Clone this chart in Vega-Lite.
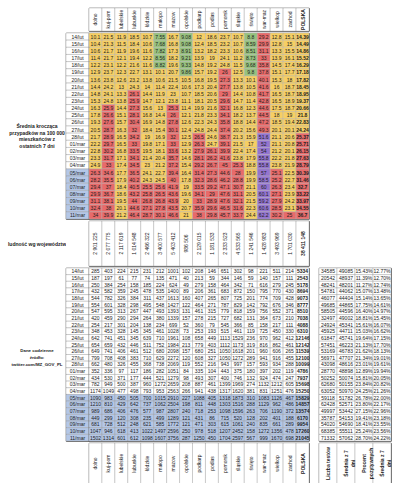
{
"$schema":"https://vega.github.io/schema/vega-lite/v6.json",
"padding":{"left":7,"top":7,"right":0,"bottom":0},
"background":"white",
"config":{"view":{"stroke":"#222","strokeWidth":0.8},"concat":{"spacing":0},"text":{"font":"Liberation Sans Narrow, Liberation Sans, Arial, sans-serif","fontSize":5,"fill":"#222"},"locale":{"number":{"decimal":".","thousands":" ","grouping":[3],"currency":["",""]}}},
"datasets":{
"cells":[
{"d":"14/lut","r":"dolno","a":10.1,"c":285},{"d":"14/lut","r":"kuj-pom","a":21.5,"c":403},{"d":"14/lut","r":"lubelskie","a":11.9,"c":224},{"d":"14/lut","r":"lubuskie","a":18.5,"c":215},{"d":"14/lut","r":"łódzkie","a":10.7,"c":231},{"d":"14/lut","r":"małopo","a":7.55,"c":212},{"d":"14/lut","r":"mazow","a":16.7,"c":1001},{"d":"14/lut","r":"opolskie","a":9.08,"c":102},{"d":"14/lut","r":"podkarp","a":12,"c":208},{"d":"14/lut","r":"podlas","a":18.6,"c":146},{"d":"14/lut","r":"pomorsk","a":23.7,"c":651},{"d":"14/lut","r":"śląskie","a":10.7,"c":302},{"d":"14/lut","r":"święto","a":8.8,"c":98},{"d":"14/lut","r":"war-maz","a":29.2,"c":221},{"d":"14/lut","r":"wielkop","a":12.8,"c":511},{"d":"14/lut","r":"zachod","a":15.1,"c":214},{"d":"14/lut","r":"POLSKA","a":14.39,"c":5334},
{"d":"15/lut","r":"dolno","a":10.4,"c":187},{"d":"15/lut","r":"kuj-pom","a":21.3,"c":197},{"d":"15/lut","r":"lubelskie","a":11.5,"c":61},{"d":"15/lut","r":"lubuskie","a":18.4,"c":77},{"d":"15/lut","r":"łódzkie","a":10.6,"c":74},{"d":"15/lut","r":"małopo","a":7.68,"c":135},{"d":"15/lut","r":"mazow","a":16.8,"c":471},{"d":"15/lut","r":"opolskie","a":9.08,"c":40},{"d":"15/lut","r":"podkarp","a":12.4,"c":213},{"d":"15/lut","r":"podlas","a":18.5,"c":59},{"d":"15/lut","r":"pomorsk","a":23.2,"c":344},{"d":"15/lut","r":"śląskie","a":10.7,"c":146},{"d":"15/lut","r":"święto","a":8.59,"c":59},{"d":"15/lut","r":"war-maz","a":29.9,"c":140},{"d":"15/lut","r":"wielkop","a":12.8,"c":157},{"d":"15/lut","r":"zachod","a":15,"c":111},{"d":"15/lut","r":"POLSKA","a":14.49,"c":2543},
{"d":"16/lut","r":"dolno","a":10.6,"c":250},{"d":"16/lut","r":"kuj-pom","a":21.7,"c":384},{"d":"16/lut","r":"lubelskie","a":11.9,"c":254},{"d":"16/lut","r":"lubuskie","a":19.6,"c":158},{"d":"16/lut","r":"łódzkie","a":11.6,"c":185},{"d":"16/lut","r":"małopo","a":7.82,"c":224},{"d":"16/lut","r":"mazow","a":17.3,"c":624},{"d":"16/lut","r":"opolskie","a":8.91,"c":49},{"d":"16/lut","r":"podkarp","a":13.2,"c":279},{"d":"16/lut","r":"podlas","a":18.2,"c":158},{"d":"16/lut","r":"pomorsk","a":23.3,"c":464},{"d":"16/lut","r":"śląskie","a":10.6,"c":342},{"d":"16/lut","r":"święto","a":8.51,"c":71},{"d":"16/lut","r":"war-maz","a":31.1,"c":616},{"d":"16/lut","r":"wielkop","a":13.3,"c":279},{"d":"16/lut","r":"zachod","a":15.5,"c":245},{"d":"16/lut","r":"POLSKA","a":14.86,"c":5178},
{"d":"17/lut","r":"dolno","a":11.4,"c":432},{"d":"17/lut","r":"kuj-pom","a":21.7,"c":582},{"d":"17/lut","r":"lubelskie","a":12.1,"c":359},{"d":"17/lut","r":"lubuskie","a":19.4,"c":245},{"d":"17/lut","r":"łódzkie","a":12.2,"c":478},{"d":"17/lut","r":"małopo","a":8.56,"c":535},{"d":"17/lut","r":"mazow","a":18.2,"c":1400},{"d":"17/lut","r":"opolskie","a":9.21,"c":89},{"d":"17/lut","r":"podkarp","a":13.9,"c":206},{"d":"17/lut","r":"podlas","a":19,"c":361},{"d":"17/lut","r":"pomorsk","a":24.1,"c":683},{"d":"17/lut","r":"śląskie","a":11.2,"c":872},{"d":"17/lut","r":"święto","a":8.73,"c":150},{"d":"17/lut","r":"war-maz","a":33,"c":795},{"d":"17/lut","r":"wielkop","a":13.9,"c":770},{"d":"17/lut","r":"zachod","a":16.1,"c":430},{"d":"17/lut","r":"POLSKA","a":15.52,"c":8694},
{"d":"18/lut","r":"dolno","a":12.2,"c":544},{"d":"18/lut","r":"kuj-pom","a":23.1,"c":782},{"d":"18/lut","r":"lubelskie","a":12.2,"c":326},{"d":"18/lut","r":"lubuskie","a":21.6,"c":384},{"d":"18/lut","r":"łódzkie","a":11.6,"c":311},{"d":"18/lut","r":"małopo","a":8.82,"c":437},{"d":"18/lut","r":"mazow","a":19.6,"c":1613},{"d":"18/lut","r":"opolskie","a":9.33,"c":160},{"d":"18/lut","r":"podkarp","a":14.8,"c":407},{"d":"18/lut","r":"podlas","a":19.2,"c":265},{"d":"18/lut","r":"pomorsk","a":24.8,"c":807},{"d":"18/lut","r":"śląskie","a":11.5,"c":725},{"d":"18/lut","r":"święto","a":9.68,"c":201},{"d":"18/lut","r":"war-maz","a":35.8,"c":774},{"d":"18/lut","r":"wielkop","a":14.5,"c":709},{"d":"18/lut","r":"zachod","a":17.4,"c":428},{"d":"18/lut","r":"POLSKA","a":16.29,"c":9073},
{"d":"19/lut","r":"dolno","a":12.9,"c":554},{"d":"19/lut","r":"kuj-pom","a":23.7,"c":601},{"d":"19/lut","r":"lubelskie","a":12.3,"c":328},{"d":"19/lut","r":"lubuskie","a":22.7,"c":298},{"d":"19/lut","r":"łódzkie","a":13.1,"c":495},{"d":"19/lut","r":"małopo","a":10.1,"c":548},{"d":"19/lut","r":"mazow","a":20.7,"c":1427},{"d":"19/lut","r":"opolskie","a":9.86,"c":122},{"d":"19/lut","r":"podkarp","a":15.7,"c":464},{"d":"19/lut","r":"podlas","a":19.2,"c":271},{"d":"19/lut","r":"pomorsk","a":26,"c":787},{"d":"19/lut","r":"śląskie","a":12.5,"c":829},{"d":"19/lut","r":"święto","a":9.8,"c":142},{"d":"19/lut","r":"war-maz","a":37.8,"c":792},{"d":"19/lut","r":"wielkop","a":15.1,"c":676},{"d":"19/lut","r":"zachod","a":17.7,"c":346},{"d":"19/lut","r":"POLSKA","a":17.18,"c":8777},
{"d":"20/lut","r":"dolno","a":13.6,"c":547},{"d":"20/lut","r":"kuj-pom","a":23.8,"c":595},{"d":"20/lut","r":"lubelskie","a":12.6,"c":313},{"d":"20/lut","r":"lubuskie","a":23.2,"c":267},{"d":"20/lut","r":"łódzkie","a":13.8,"c":447},{"d":"20/lut","r":"małopo","a":10.6,"c":493},{"d":"20/lut","r":"mazow","a":21.5,"c":1393},{"d":"20/lut","r":"opolskie","a":10.5,"c":131},{"d":"20/lut","r":"podkarp","a":16.8,"c":461},{"d":"20/lut","r":"podlas","a":19.5,"c":315},{"d":"20/lut","r":"pomorsk","a":27.3,"c":779},{"d":"20/lut","r":"śląskie","a":13.3,"c":818},{"d":"20/lut","r":"święto","a":10.1,"c":159},{"d":"20/lut","r":"war-maz","a":40.1,"c":756},{"d":"20/lut","r":"wielkop","a":15.3,"c":552},{"d":"20/lut","r":"zachod","a":18,"c":371},{"d":"20/lut","r":"POLSKA","a":17.82,"c":8510},
{"d":"21/lut","r":"dolno","a":14.4,"c":420},{"d":"21/lut","r":"kuj-pom","a":24.2,"c":459},{"d":"21/lut","r":"lubelskie","a":13,"c":290},{"d":"21/lut","r":"lubuskie","a":24.3,"c":294},{"d":"21/lut","r":"łódzkie","a":14,"c":264},{"d":"21/lut","r":"małopo","a":11.4,"c":380},{"d":"21/lut","r":"mazow","a":22.4,"c":1339},{"d":"21/lut","r":"opolskie","a":10.6,"c":157},{"d":"21/lut","r":"podkarp","a":17.3,"c":278},{"d":"21/lut","r":"podlas","a":20.4,"c":215},{"d":"21/lut","r":"pomorsk","a":27.7,"c":727},{"d":"21/lut","r":"śląskie","a":13.8,"c":682},{"d":"21/lut","r":"święto","a":10.5,"c":131},{"d":"21/lut","r":"war-maz","a":41.6,"c":364},{"d":"21/lut","r":"wielkop","a":16,"c":673},{"d":"21/lut","r":"zachod","a":18.7,"c":210},{"d":"21/lut","r":"POLSKA","a":18.45,"c":7038},
{"d":"22/lut","r":"dolno","a":14.8,"c":254},{"d":"22/lut","r":"kuj-pom","a":24.1,"c":217},{"d":"22/lut","r":"lubelskie","a":13.3,"c":301},{"d":"22/lut","r":"lubuskie","a":26.1,"c":204},{"d":"22/lut","r":"łódzkie","a":14.4,"c":138},{"d":"22/lut","r":"małopo","a":11.9,"c":234},{"d":"22/lut","r":"mazow","a":23,"c":699},{"d":"22/lut","r":"opolskie","a":10.7,"c":52},{"d":"22/lut","r":"podkarp","a":18.5,"c":360},{"d":"22/lut","r":"podlas","a":20.6,"c":79},{"d":"22/lut","r":"pomorsk","a":29,"c":545},{"d":"22/lut","r":"śląskie","a":14.4,"c":366},{"d":"22/lut","r":"święto","a":10.8,"c":85},{"d":"22/lut","r":"war-maz","a":41.7,"c":158},{"d":"22/lut","r":"wielkop","a":16.5,"c":217},{"d":"22/lut","r":"zachod","a":18.7,"c":111},{"d":"22/lut","r":"POLSKA","a":18.95,"c":4088},
{"d":"23/lut","r":"dolno","a":15.3,"c":348},{"d":"23/lut","r":"kuj-pom","a":24.8,"c":453},{"d":"23/lut","r":"lubelskie","a":13.8,"c":328},{"d":"23/lut","r":"lubuskie","a":25.9,"c":145},{"d":"23/lut","r":"łódzkie","a":14.7,"c":345},{"d":"23/lut","r":"małopo","a":12.1,"c":461},{"d":"23/lut","r":"mazow","a":23.8,"c":1028},{"d":"23/lut","r":"opolskie","a":11.1,"c":73},{"d":"23/lut","r":"podkarp","a":18.1,"c":253},{"d":"23/lut","r":"podlas","a":20.5,"c":193},{"d":"23/lut","r":"pomorsk","a":29.6,"c":515},{"d":"23/lut","r":"śląskie","a":14.7,"c":461},{"d":"23/lut","r":"święto","a":11.4,"c":119},{"d":"23/lut","r":"war-maz","a":42.8,"c":725},{"d":"23/lut","r":"wielkop","a":16.5,"c":450},{"d":"23/lut","r":"zachod","a":18.9,"c":330},{"d":"23/lut","r":"POLSKA","a":19.37,"c":6310},
{"d":"24/lut","r":"dolno","a":16.3,"c":642},{"d":"24/lut","r":"kuj-pom","a":25.9,"c":741},{"d":"24/lut","r":"lubelskie","a":14.4,"c":451},{"d":"24/lut","r":"lubuskie","a":27.3,"c":345},{"d":"24/lut","r":"łódzkie","a":15.6,"c":639},{"d":"24/lut","r":"małopo","a":13,"c":710},{"d":"24/lut","r":"mazow","a":25.3,"c":1961},{"d":"24/lut","r":"opolskie","a":11.4,"c":108},{"d":"24/lut","r":"podkarp","a":19.9,"c":658},{"d":"24/lut","r":"podlas","a":21.6,"c":449},{"d":"24/lut","r":"pomorsk","a":32.1,"c":1113},{"d":"24/lut","r":"śląskie","a":16.8,"c":1529},{"d":"24/lut","r":"święto","a":12.3,"c":236},{"d":"24/lut","r":"war-maz","a":44.6,"c":970},{"d":"24/lut","r":"wielkop","a":17.5,"c":962},{"d":"24/lut","r":"zachod","a":18.7,"c":412},{"d":"24/lut","r":"POLSKA","a":20.66,"c":12146},
{"d":"25/lut","r":"dolno","a":17.8,"c":654},{"d":"25/lut","r":"kuj-pom","a":26.6,"c":659},{"d":"25/lut","r":"lubelskie","a":15.1,"c":432},{"d":"25/lut","r":"lubuskie","a":28.1,"c":446},{"d":"25/lut","r":"łódzkie","a":16.8,"c":511},{"d":"25/lut","r":"małopo","a":14.4,"c":752},{"d":"25/lut","r":"mazow","a":26,"c":1984},{"d":"25/lut","r":"opolskie","a":12.1,"c":213},{"d":"25/lut","r":"podkarp","a":21.8,"c":779},{"d":"25/lut","r":"podlas","a":23.3,"c":403},{"d":"25/lut","r":"pomorsk","a":34.1,"c":1112},{"d":"25/lut","r":"śląskie","a":18.2,"c":1173},{"d":"25/lut","r":"święto","a":13.7,"c":319},{"d":"25/lut","r":"war-maz","a":44.5,"c":816},{"d":"25/lut","r":"wielkop","a":18,"c":862},{"d":"25/lut","r":"zachod","a":19,"c":461},{"d":"25/lut","r":"POLSKA","a":21.8,"c":12142},
{"d":"26/lut","r":"dolno","a":19.3,"c":649},{"d":"26/lut","r":"kuj-pom","a":27.6,"c":741},{"d":"26/lut","r":"lubelskie","a":15.7,"c":406},{"d":"26/lut","r":"lubuskie","a":30.4,"c":461},{"d":"26/lut","r":"łódzkie","a":16.9,"c":512},{"d":"26/lut","r":"małopo","a":14.8,"c":680},{"d":"26/lut","r":"mazow","a":27.8,"c":2098},{"d":"26/lut","r":"opolskie","a":12.6,"c":157},{"d":"26/lut","r":"podkarp","a":22.3,"c":680},{"d":"26/lut","r":"podlas","a":24.3,"c":251},{"d":"26/lut","r":"pomorsk","a":35.8,"c":1050},{"d":"26/lut","r":"śląskie","a":18.8,"c":1618},{"d":"26/lut","r":"święto","a":14.4,"c":201},{"d":"26/lut","r":"war-maz","a":47.2,"c":960},{"d":"26/lut","r":"wielkop","a":18.5,"c":606},{"d":"26/lut","r":"zachod","a":19.4,"c":265},{"d":"26/lut","r":"POLSKA","a":22.83,"c":11539},
{"d":"27/lut","r":"dolno","a":20.5,"c":799},{"d":"27/lut","r":"kuj-pom","a":28.7,"c":708},{"d":"27/lut","r":"lubelskie","a":16.3,"c":408},{"d":"27/lut","r":"lubuskie","a":32,"c":383},{"d":"27/lut","r":"łódzkie","a":18.4,"c":710},{"d":"27/lut","r":"małopo","a":15.4,"c":629},{"d":"27/lut","r":"mazow","a":30.1,"c":2272},{"d":"27/lut","r":"opolskie","a":12.4,"c":120},{"d":"27/lut","r":"podkarp","a":24.8,"c":608},{"d":"27/lut","r":"podlas","a":24.4,"c":327},{"d":"27/lut","r":"pomorsk","a":37.4,"c":1050},{"d":"27/lut","r":"śląskie","a":20.2,"c":1272},{"d":"27/lut","r":"święto","a":15.6,"c":289},{"d":"27/lut","r":"war-maz","a":49.3,"c":941},{"d":"27/lut","r":"wielkop","a":20.1,"c":916},{"d":"27/lut","r":"zachod","a":20.1,"c":455},{"d":"27/lut","r":"POLSKA","a":24.24,"c":12100},
{"d":"28/lut","r":"dolno","a":21.7,"c":662},{"d":"28/lut","r":"kuj-pom","a":28.9,"c":480},{"d":"28/lut","r":"lubelskie","a":16.5,"c":326},{"d":"28/lut","r":"lubuskie","a":34.2,"c":455},{"d":"28/lut","r":"łódzkie","a":19,"c":368},{"d":"28/lut","r":"małopo","a":16.9,"c":738},{"d":"28/lut","r":"mazow","a":32,"c":2069},{"d":"28/lut","r":"opolskie","a":12.5,"c":119},{"d":"28/lut","r":"podkarp","a":26.5,"c":552},{"d":"28/lut","r":"podlas","a":24.6,"c":216},{"d":"28/lut","r":"pomorsk","a":38.7,"c":943},{"d":"28/lut","r":"śląskie","a":21.3,"c":997},{"d":"28/lut","r":"święto","a":15.9,"c":157},{"d":"28/lut","r":"war-maz","a":51.6,"c":593},{"d":"28/lut","r":"wielkop","a":21.1,"c":934},{"d":"28/lut","r":"zachod","a":20.6,"c":288},{"d":"28/lut","r":"POLSKA","a":25.37,"c":10099},
{"d":"01/mar","r":"dolno","a":22.2,"c":352},{"d":"01/mar","r":"kuj-pom","a":29.7,"c":336},{"d":"01/mar","r":"lubelskie","a":16.5,"c":97},{"d":"01/mar","r":"lubuskie","a":33,"c":117},{"d":"01/mar","r":"łódzkie","a":19.8,"c":186},{"d":"01/mar","r":"małopo","a":17.1,"c":282},{"d":"01/mar","r":"mazow","a":33,"c":1051},{"d":"01/mar","r":"opolskie","a":12.9,"c":84},{"d":"01/mar","r":"podkarp","a":26.3,"c":335},{"d":"01/mar","r":"podlas","a":24.7,"c":104},{"d":"01/mar","r":"pomorsk","a":39.1,"c":443},{"d":"01/mar","r":"śląskie","a":21.5,"c":375},{"d":"01/mar","r":"święto","a":17,"c":180},{"d":"01/mar","r":"war-maz","a":52,"c":397},{"d":"01/mar","r":"wielkop","a":21.1,"c":202},{"d":"01/mar","r":"zachod","a":20.8,"c":119},{"d":"01/mar","r":"POLSKA","a":25.71,"c":4786},
{"d":"02/mar","r":"dolno","a":22.8,"c":434},{"d":"02/mar","r":"kuj-pom","a":30.2,"c":530},{"d":"02/mar","r":"lubelskie","a":16.8,"c":371},{"d":"02/mar","r":"lubuskie","a":33.5,"c":177},{"d":"02/mar","r":"łódzkie","a":19.5,"c":444},{"d":"02/mar","r":"małopo","a":18.1,"c":521},{"d":"02/mar","r":"mazow","a":33.6,"c":1279},{"d":"02/mar","r":"opolskie","a":13.2,"c":98},{"d":"02/mar","r":"podkarp","a":27.9,"c":493},{"d":"02/mar","r":"podlas","a":26.1,"c":307},{"d":"02/mar","r":"pomorsk","a":39.9,"c":400},{"d":"02/mar","r":"śląskie","a":22.4,"c":746},{"d":"02/mar","r":"święto","a":17.4,"c":132},{"d":"02/mar","r":"war-maz","a":54,"c":924},{"d":"02/mar","r":"wielkop","a":21.2,"c":474},{"d":"02/mar","r":"zachod","a":20.1,"c":247},{"d":"02/mar","r":"POLSKA","a":26.15,"c":7937},
{"d":"03/mar","r":"dolno","a":23.3,"c":782},{"d":"03/mar","r":"kuj-pom","a":31.7,"c":949},{"d":"03/mar","r":"lubelskie","a":17.1,"c":500},{"d":"03/mar","r":"lubuskie","a":34.1,"c":387},{"d":"03/mar","r":"łódzkie","a":21.4,"c":960},{"d":"03/mar","r":"małopo","a":20.4,"c":1272},{"d":"03/mar","r":"mazow","a":35.7,"c":2659},{"d":"03/mar","r":"opolskie","a":14.6,"c":208},{"d":"03/mar","r":"podkarp","a":28.1,"c":887},{"d":"03/mar","r":"podlas","a":26.2,"c":461},{"d":"03/mar","r":"pomorsk","a":41.6,"c":1399},{"d":"03/mar","r":"śląskie","a":23.8,"c":1969},{"d":"03/mar","r":"święto","a":17.9,"c":274},{"d":"03/mar","r":"war-maz","a":55.8,"c":1132},{"d":"03/mar","r":"wielkop","a":22.2,"c":1212},{"d":"03/mar","r":"zachod","a":21.8,"c":605},{"d":"03/mar","r":"POLSKA","a":27.63,"c":15698},
{"d":"04/mar","r":"dolno","a":24.9,"c":1174},{"d":"04/mar","r":"kuj-pom","a":33,"c":1049},{"d":"04/mar","r":"lubelskie","a":17.4,"c":477},{"d":"04/mar","r":"lubuskie","a":34.5,"c":498},{"d":"04/mar","r":"łódzkie","a":23,"c":793},{"d":"04/mar","r":"małopo","a":21.2,"c":953},{"d":"04/mar","r":"mazow","a":37.2,"c":2563},{"d":"04/mar","r":"opolskie","a":15.4,"c":266},{"d":"04/mar","r":"podkarp","a":29.2,"c":941},{"d":"04/mar","r":"podlas","a":26.7,"c":438},{"d":"04/mar","r":"pomorsk","a":45,"c":1317},{"d":"04/mar","r":"śląskie","a":25.3,"c":1620},{"d":"04/mar","r":"święto","a":18.8,"c":381},{"d":"04/mar","r":"war-maz","a":55.8,"c":831},{"d":"04/mar","r":"wielkop","a":23.8,"c":1251},{"d":"04/mar","r":"zachod","a":21.9,"c":476},{"d":"04/mar","r":"POLSKA","a":28.79,"c":15250},
{"d":"05/mar","r":"dolno","a":26.3,"c":1090},{"d":"05/mar","r":"kuj-pom","a":34.6,"c":983},{"d":"05/mar","r":"lubelskie","a":17.7,"c":450},{"d":"05/mar","r":"lubuskie","a":36.5,"c":505},{"d":"05/mar","r":"łódzkie","a":24.1,"c":700},{"d":"05/mar","r":"małopo","a":22.7,"c":1015},{"d":"05/mar","r":"mazow","a":39.4,"c":2910},{"d":"05/mar","r":"opolskie","a":16.4,"c":227},{"d":"05/mar","r":"podkarp","a":31.4,"c":1088},{"d":"05/mar","r":"podlas","a":27.3,"c":405},{"d":"05/mar","r":"pomorsk","a":44.6,"c":1318},{"d":"05/mar","r":"śląskie","a":28,"c":1873},{"d":"05/mar","r":"święto","a":19.9,"c":310},{"d":"05/mar","r":"war-maz","a":57,"c":1083},{"d":"05/mar","r":"wielkop","a":25.1,"c":1126},{"d":"05/mar","r":"zachod","a":22.5,"c":467},{"d":"05/mar","r":"POLSKA","a":30.39,"c":15829},
{"d":"06/mar","r":"dolno","a":28.2,"c":1210},{"d":"06/mar","r":"kuj-pom","a":35.5,"c":810},{"d":"06/mar","r":"lubelskie","a":17.9,"c":429},{"d":"06/mar","r":"lubuskie","a":40.2,"c":642},{"d":"06/mar","r":"łódzkie","a":24.3,"c":737},{"d":"06/mar","r":"małopo","a":24.5,"c":1062},{"d":"06/mar","r":"mazow","a":40,"c":2504},{"d":"06/mar","r":"opolskie","a":17.8,"c":198},{"d":"06/mar","r":"podkarp","a":32.3,"c":811},{"d":"06/mar","r":"podlas","a":28.6,"c":448},{"d":"06/mar","r":"pomorsk","a":46.2,"c":1303},{"d":"06/mar","r":"śląskie","a":28.8,"c":1516},{"d":"06/mar","r":"święto","a":19.9,"c":288},{"d":"06/mar","r":"war-maz","a":58.5,"c":1129},{"d":"06/mar","r":"wielkop","a":25.2,"c":962},{"d":"06/mar","r":"zachod","a":22.7,"c":486},{"d":"06/mar","r":"POLSKA","a":31.46,"c":14857},
{"d":"07/mar","r":"dolno","a":29.4,"c":989},{"d":"07/mar","r":"kuj-pom","a":37,"c":686},{"d":"07/mar","r":"lubelskie","a":18.4,"c":406},{"d":"07/mar","r":"lubuskie","a":40.5,"c":476},{"d":"07/mar","r":"łódzkie","a":25.5,"c":577},{"d":"07/mar","r":"małopo","a":25.6,"c":987},{"d":"07/mar","r":"mazow","a":41.9,"c":2807},{"d":"07/mar","r":"opolskie","a":19,"c":240},{"d":"07/mar","r":"podkarp","a":33.5,"c":718},{"d":"07/mar","r":"podlas","a":29.2,"c":253},{"d":"07/mar","r":"pomorsk","a":47.1,"c":1098},{"d":"07/mar","r":"śląskie","a":30.7,"c":1596},{"d":"07/mar","r":"święto","a":21.1,"c":263},{"d":"07/mar","r":"war-maz","a":60,"c":706},{"d":"07/mar","r":"wielkop","a":26.3,"c":1190},{"d":"07/mar","r":"zachod","a":23.4,"c":372},{"d":"07/mar","r":"POLSKA","a":32.7,"c":13574},
{"d":"08/mar","r":"dolno","a":29.9,"c":449},{"d":"08/mar","r":"kuj-pom","a":36.7,"c":299},{"d":"08/mar","r":"lubelskie","a":18.6,"c":120},{"d":"08/mar","r":"lubuskie","a":43.2,"c":308},{"d":"08/mar","r":"łódzkie","a":25.8,"c":235},{"d":"08/mar","r":"małopo","a":26.5,"c":499},{"d":"08/mar","r":"mazow","a":43.6,"c":1289},{"d":"08/mar","r":"opolskie","a":19.6,"c":121},{"d":"08/mar","r":"podkarp","a":34.1,"c":431},{"d":"08/mar","r":"podlas","a":29,"c":86},{"d":"08/mar","r":"pomorsk","a":47.6,"c":715},{"d":"08/mar","r":"śląskie","a":31.1,"c":520},{"d":"08/mar","r":"święto","a":20.5,"c":128},{"d":"08/mar","r":"war-maz","a":60.1,"c":202},{"d":"08/mar","r":"wielkop","a":27.1,"c":401},{"d":"08/mar","r":"zachod","a":23.9,"c":188},{"d":"08/mar","r":"POLSKA","a":33.22,"c":6170},
{"d":"09/mar","r":"dolno","a":31.1,"c":681},{"d":"09/mar","r":"kuj-pom","a":38.1,"c":728},{"d":"09/mar","r":"lubelskie","a":19.5,"c":512},{"d":"09/mar","r":"lubuskie","a":44,"c":248},{"d":"09/mar","r":"łódzkie","a":26.8,"c":621},{"d":"09/mar","r":"małopo","a":26.8,"c":585},{"d":"09/mar","r":"mazow","a":43.9,"c":1772},{"d":"09/mar","r":"opolskie","a":20,"c":121},{"d":"09/mar","r":"podkarp","a":33,"c":471},{"d":"09/mar","r":"podlas","a":28.9,"c":303},{"d":"09/mar","r":"pomorsk","a":47.6,"c":615},{"d":"09/mar","r":"śląskie","a":32.1,"c":1061},{"d":"09/mar","r":"święto","a":21.5,"c":240},{"d":"09/mar","r":"war-maz","a":59.2,"c":835},{"d":"09/mar","r":"wielkop","a":27.9,"c":661},{"d":"09/mar","r":"zachod","a":24.2,"c":289},{"d":"09/mar","r":"POLSKA","a":33.97,"c":9954},
{"d":"10/mar","r":"dolno","a":32.4,"c":1047},{"d":"10/mar","r":"kuj-pom","a":38,"c":946},{"d":"10/mar","r":"lubelskie","a":20.1,"c":618},{"d":"10/mar","r":"lubuskie","a":44.6,"c":413},{"d":"10/mar","r":"łódzkie","a":27.1,"c":1022},{"d":"10/mar","r":"małopo","a":27.8,"c":1497},{"d":"10/mar","r":"mazow","a":43.5,"c":2596},{"d":"10/mar","r":"opolskie","a":20.7,"c":250},{"d":"10/mar","r":"podkarp","a":35.9,"c":978},{"d":"10/mar","r":"podlas","a":29.6,"c":518},{"d":"10/mar","r":"pomorsk","a":46.5,"c":1207},{"d":"10/mar","r":"śląskie","a":31.6,"c":2452},{"d":"10/mar","r":"święto","a":22.3,"c":158},{"d":"10/mar","r":"war-maz","a":60.6,"c":1272},{"d":"10/mar","r":"wielkop","a":28.5,"c":1356},{"d":"10/mar","r":"zachod","a":23.1,"c":478},{"d":"10/mar","r":"POLSKA","a":34.55,"c":17260},
{"d":"11/mar","r":"dolno","a":34,"c":1502},{"d":"11/mar","r":"kuj-pom","a":39.9,"c":1314},{"d":"11/mar","r":"lubelskie","a":21.2,"c":601},{"d":"11/mar","r":"lubuskie","a":46.4,"c":612},{"d":"11/mar","r":"łódzkie","a":28.7,"c":1098},{"d":"11/mar","r":"małopo","a":30.1,"c":1607},{"d":"11/mar","r":"mazow","a":46.6,"c":3756},{"d":"11/mar","r":"opolskie","a":21,"c":287},{"d":"11/mar","r":"podkarp","a":38,"c":1250},{"d":"11/mar","r":"podlas","a":29.8,"c":450},{"d":"11/mar","r":"pomorsk","a":45.7,"c":1704},{"d":"11/mar","r":"śląskie","a":33.7,"c":2597},{"d":"11/mar","r":"święto","a":24.4,"c":567},{"d":"11/mar","r":"war-maz","a":62.2,"c":999},{"d":"11/mar","r":"wielkop","a":30.2,"c":1670},{"d":"11/mar","r":"zachod","a":25,"c":698},{"d":"11/mar","r":"POLSKA","a":36.7,"c":21045}
],
"pop":[{"r":"dolno","p":2901225},{"r":"kuj-pom","p":2077775},{"r":"lubelskie","p":2117619},{"r":"lubuskie","p":1014548},{"r":"łódzkie","p":2466322},{"r":"małopo","p":3400577},{"r":"mazow","p":5403412},{"r":"opolskie","p":986506},{"r":"podkarp","p":2129015},{"r":"podlas","p":1181533},{"r":"pomorsk","p":2333523},{"r":"śląskie","p":4533565},{"r":"święto","p":1241546},{"r":"war-maz","p":1428983},{"r":"wielkop","p":3493969},{"r":"zachod","p":1701030},{"r":"POLSKA","p":38411148}],
"tests":[
{"d":"14/lut","t":34585,"ta":49085,"p":0.1543,"pa":0.1277},{"d":"15/lut","t":20542,"ta":48937,"p":0.1139,"pa":0.127},{"d":"16/lut","t":48241,"ta":48201,"p":0.1127,"pa":0.1274},{"d":"17/lut","t":54781,"ta":44062,"p":0.1507,"pa":0.1348},{"d":"18/lut","t":46077,"ta":44404,"p":0.1514,"pa":0.1365},{"d":"19/lut","t":49685,"ta":44865,"p":0.1775,"pa":0.1461},{"d":"20/lut","t":58505,"ta":44596,"p":0.164,"pa":0.1497},{"d":"21/lut","t":32497,"ta":49002,"p":0.1881,"pa":0.1545},{"d":"22/lut","t":24924,"ta":45341,"p":0.1561,"pa":0.1607},{"d":"23/lut","t":45925,"ta":44711,"p":0.1503,"pa":0.1662},{"d":"24/lut","t":61847,"ta":45741,"p":0.1964,"pa":0.1715},{"d":"25/lut","t":57451,"ta":46223,"p":0.2113,"pa":0.177},{"d":"26/lut","t":53169,"ta":46783,"p":0.2162,"pa":0.1813},{"d":"27/lut","t":56971,"ta":47707,"p":0.2134,"pa":0.1901},{"d":"28/lut","t":43098,"ta":48616,"p":0.2301,"pa":0.1961},{"d":"01/mar","t":28770,"ta":48898,"p":0.1289,"pa":0.1994},{"d":"02/mar","t":50252,"ta":50074,"p":0.1581,"pa":0.2005},{"d":"03/mar","t":62680,"ta":50155,"p":0.2384,"pa":0.2082},{"d":"04/mar","t":63052,"ta":50970,"p":0.2425,"pa":0.2126},{"d":"05/mar","t":59118,"ta":51782,"p":0.2678,"pa":0.22},{"d":"06/mar","t":62428,"ta":52571,"p":0.238,"pa":0.2217},{"d":"07/mar","t":49997,"ta":53442,"p":0.2715,"pa":0.2296},{"d":"08/mar","t":35787,"ta":54153,"p":0.1941,"pa":0.2318},{"d":"09/mar","t":54020,"ta":54690,"p":0.1841,"pa":0.2355},{"d":"10/mar","t":68385,"ta":55511,"p":0.2524,"pa":0.2356},{"d":"11/mar","t":71332,"ta":57062,"p":0.287,"pa":0.2422}
]
},
"spacing":0,
"resolve":{"scale":{"x":"independent","y":"independent"}},
"vconcat":[
{"hconcat":[
 {"width":81,"height":23,"data":{"values":[{}]},"mark":{"type":"rect","fill":"white"},"encoding":{}},
 {"width":220,"height":23,"data":{"name":"pop"},
  "encoding":{"x":{"field":"r","type":"nominal","sort":null,"axis":null,"scale":{"paddingInner":0,"paddingOuter":0}}},
  "layer":[
   {"mark":{"type":"rect","fill":"white","stroke":"#999","strokeWidth":0.4}},
   {"transform":[{"filter":"datum.r != 'POLSKA'"}],"mark":{"type":"text","angle":270},"encoding":{"text":{"field":"r","type":"nominal"}}},
   {"transform":[{"filter":"datum.r == 'POLSKA'"}],"mark":{"type":"text","angle":270,"fontWeight":"bold"},"encoding":{"text":{"field":"r","type":"nominal"}}}
  ]}
 ],"spacing":0,"bounds":"flush","resolve":{"scale":{"x":"independent","y":"independent"}}},
{"hconcat":[
 {"width":58,"height":186,"data":{"values":[{}]},"mark":{"type":"text","fontWeight":"bold","lineHeight":6.6},"encoding":{"text":{"value":["Średnia krocząca","przypadków na 100 000","mieszkańców z","ostatnich 7 dni"]}}},
 {"width":23,"height":186,"data":{"name":"cells"},"transform":[{"filter":"datum.r == 'POLSKA'"}],
  "encoding":{"y":{"field":"d","type":"nominal","sort":null,"axis":null,"scale":{"paddingInner":0,"paddingOuter":0}}},
  "layer":[
   {"mark":{"type":"rect","stroke":"#999","strokeWidth":0.4},"encoding":{"fill":{"condition":{"test":"indexof(['05/mar','06/mar','07/mar','08/mar','09/mar','10/mar','11/mar'], datum.d) >= 0","value":"#b4c7e7"},"value":"white"}}},
   {"mark":{"type":"text"},"encoding":{"text":{"field":"d","type":"nominal"}}}
  ]},
 {"width":220,"height":186,"data":{"name":"cells"},
  "encoding":{"x":{"field":"r","type":"nominal","sort":null,"axis":null,"scale":{"paddingInner":0,"paddingOuter":0}},"y":{"field":"d","type":"nominal","sort":null,"axis":null,"scale":{"paddingInner":0,"paddingOuter":0}}},
  "layer":[
   {"mark":{"type":"rect","stroke":"#b0b0b0","strokeWidth":0.4},"encoding":{"fill":{"field":"a","type":"quantitative","scale":{"type":"threshold","domain":[10,25,50],"range":["#97c27e","#f6cf64","#e86a6a","#9474cf"]},"legend":null}}},
   {"transform":[{"filter":"datum.r != 'POLSKA'"}],"mark":{"type":"text"},"encoding":{"text":{"field":"a","type":"quantitative"}}},
   {"transform":[{"filter":"datum.r == 'POLSKA'"}],"mark":{"type":"text","fontWeight":"bold"},"encoding":{"text":{"field":"a","type":"quantitative"}}}
  ]}
 ],"spacing":0,"bounds":"flush","resolve":{"scale":{"x":"independent","y":"independent"}}},
{"hconcat":[
 {"width":58,"height":45,"data":{"values":[{}]},"mark":{"type":"text","fontWeight":"bold"},"encoding":{"text":{"value":"ludność wg województw"}}},
 {"width":23,"height":45,"data":{"values":[{}]},"mark":{"type":"rect","fill":"white"},"encoding":{}},
 {"width":220,"height":45,"data":{"name":"pop"},
  "encoding":{"x":{"field":"r","type":"nominal","sort":null,"axis":null,"scale":{"paddingInner":0,"paddingOuter":0}}},
  "layer":[
   {"mark":{"type":"rect","fill":"white","stroke":"#999","strokeWidth":0.4}},
   {"transform":[{"filter":"datum.r != 'POLSKA'"}],"mark":{"type":"text","angle":270},"encoding":{"text":{"field":"p","type":"quantitative","format":",d"}}},
   {"transform":[{"filter":"datum.r == 'POLSKA'"}],"mark":{"type":"text","angle":270,"fontWeight":"bold"},"encoding":{"text":{"field":"p","type":"quantitative","format":",d"}}}
  ]}
 ],"spacing":0,"bounds":"flush","resolve":{"scale":{"x":"independent","y":"independent"}}},
{"hconcat":[
 {"width":58,"height":173,"data":{"values":[{}]},"mark":{"type":"text","fontWeight":"bold","fontSize":4.4,"lineHeight":7.3,"dy":-4},"encoding":{"text":{"value":["Dane codzienne","","źródło:","twitter.com/MZ_GOV_PL"]}}},
 {"width":23,"height":173,"data":{"name":"cells"},"transform":[{"filter":"datum.r == 'POLSKA'"}],
  "encoding":{"y":{"field":"d","type":"nominal","sort":null,"axis":null,"scale":{"paddingInner":0,"paddingOuter":0}}},
  "layer":[
   {"mark":{"type":"rect","stroke":"#999","strokeWidth":0.4},"encoding":{"fill":{"condition":{"test":"indexof(['05/mar','06/mar','07/mar','08/mar','09/mar','10/mar','11/mar'], datum.d) >= 0","value":"#b4c7e7"},"value":"white"}}},
   {"mark":{"type":"text"},"encoding":{"text":{"field":"d","type":"nominal"}}}
  ]},
 {"width":220,"height":173,"data":{"name":"cells"},
  "encoding":{"x":{"field":"r","type":"nominal","sort":null,"axis":null,"scale":{"paddingInner":0,"paddingOuter":0}},"y":{"field":"d","type":"nominal","sort":null,"axis":null,"scale":{"paddingInner":0,"paddingOuter":0}}},
  "layer":[
   {"mark":{"type":"rect","stroke":"#999","strokeWidth":0.4},"encoding":{"fill":{"condition":{"test":"indexof(['05/mar','06/mar','07/mar','08/mar','09/mar','10/mar','11/mar'], datum.d) >= 0","value":"#b4c7e7"},"value":"white"}}},
   {"transform":[{"filter":"datum.r != 'POLSKA'"}],"mark":{"type":"text"},"encoding":{"text":{"field":"c","type":"quantitative","format":"d"}}},
   {"transform":[{"filter":"datum.r == 'POLSKA'"}],"mark":{"type":"text","fontWeight":"bold"},"encoding":{"text":{"field":"c","type":"quantitative","format":"d"}}}
  ]},
 {"width":10,"height":173,"view":{"stroke":null},"data":{"values":[{}]},"mark":{"type":"rect","opacity":0},"encoding":{}},
 {"width":72,"height":173,"data":{"name":"tests"},
  "encoding":{"y":{"field":"d","type":"nominal","sort":null,"axis":null,"scale":{"paddingInner":0,"paddingOuter":0}}},
  "layer":[
   {"mark":{"type":"rect","fill":"white","stroke":"#999","strokeWidth":0.4},"encoding":{"x":{"datum":"t","type":"nominal","axis":null,"scale":{"domain":["t","ta","p","pa"],"paddingInner":0,"paddingOuter":0}}}},
   {"mark":{"type":"rect","fill":"white","stroke":"#999","strokeWidth":0.4},"encoding":{"x":{"datum":"ta","type":"nominal","axis":null}}},
   {"mark":{"type":"rect","fill":"white","stroke":"#999","strokeWidth":0.4},"encoding":{"x":{"datum":"p","type":"nominal","axis":null}}},
   {"mark":{"type":"rect","fill":"white","stroke":"#999","strokeWidth":0.4},"encoding":{"x":{"datum":"pa","type":"nominal","axis":null}}},
   {"mark":{"type":"text"},"encoding":{"x":{"datum":"t","type":"nominal","axis":null},"text":{"field":"t","type":"quantitative","format":"d"}}},
   {"mark":{"type":"text"},"encoding":{"x":{"datum":"ta","type":"nominal","axis":null},"text":{"field":"ta","type":"quantitative","format":"d"}}},
   {"mark":{"type":"text"},"encoding":{"x":{"datum":"p","type":"nominal","axis":null},"text":{"field":"p","type":"quantitative","format":".2%"}}},
   {"mark":{"type":"text"},"encoding":{"x":{"datum":"pa","type":"nominal","axis":null},"text":{"field":"pa","type":"quantitative","format":".2%"}}}
  ]}
 ],"spacing":0,"bounds":"flush","resolve":{"scale":{"x":"independent","y":"independent"}}},
{"hconcat":[
 {"width":58,"height":41,"data":{"values":[{}]},"mark":{"type":"rect","fill":"white"},"encoding":{}},
 {"width":23,"height":41,"data":{"values":[{}]},"mark":{"type":"rect","fill":"white"},"encoding":{}},
 {"width":220,"height":41,"data":{"name":"pop"},
  "encoding":{"x":{"field":"r","type":"nominal","sort":null,"axis":null,"scale":{"paddingInner":0,"paddingOuter":0}}},
  "layer":[
   {"mark":{"type":"rect","fill":"white","stroke":"#999","strokeWidth":0.4}},
   {"transform":[{"filter":"datum.r != 'POLSKA'"}],"mark":{"type":"text","angle":270},"encoding":{"text":{"field":"r","type":"nominal"}}},
   {"transform":[{"filter":"datum.r == 'POLSKA'"}],"mark":{"type":"text","angle":270,"fontWeight":"bold"},"encoding":{"text":{"field":"r","type":"nominal"}}}
  ]},
 {"width":10,"height":41,"view":{"stroke":null},"data":{"values":[{}]},"mark":{"type":"rect","opacity":0},"encoding":{}},
 {"width":72,"height":41,"data":{"values":[{}]},
  "layer":[
   {"mark":{"type":"rect","fill":"white","stroke":"#999","strokeWidth":0.4},"encoding":{"x":{"datum":"t","type":"nominal","axis":null,"scale":{"domain":["t","ta","p","pa"],"paddingInner":0,"paddingOuter":0}}}},
   {"mark":{"type":"rect","fill":"white","stroke":"#999","strokeWidth":0.4},"encoding":{"x":{"datum":"ta","type":"nominal","axis":null}}},
   {"mark":{"type":"rect","fill":"white","stroke":"#999","strokeWidth":0.4},"encoding":{"x":{"datum":"p","type":"nominal","axis":null}}},
   {"mark":{"type":"rect","fill":"white","stroke":"#999","strokeWidth":0.4},"encoding":{"x":{"datum":"pa","type":"nominal","axis":null}}},
   {"mark":{"type":"text","angle":270,"fontWeight":"bold"},"encoding":{"x":{"datum":"t","type":"nominal","axis":null},"text":{"value":"Liczba testów"}}},
   {"mark":{"type":"text","angle":270,"fontWeight":"bold","lineHeight":6.5},"encoding":{"x":{"datum":"ta","type":"nominal","axis":null},"text":{"value":["Średnia z 7","dni"]}}},
   {"mark":{"type":"text","angle":270,"fontWeight":"bold","lineHeight":6.5},"encoding":{"x":{"datum":"p","type":"nominal","axis":null},"text":{"value":["Procent","pozytywnych"]}}},
   {"mark":{"type":"text","angle":270,"fontWeight":"bold","lineHeight":6.5},"encoding":{"x":{"datum":"pa","type":"nominal","axis":null},"text":{"value":["Średnia z 7","dni"]}}}
  ]}
 ],"spacing":0,"bounds":"flush","resolve":{"scale":{"x":"independent","y":"independent"}}}
]
}
